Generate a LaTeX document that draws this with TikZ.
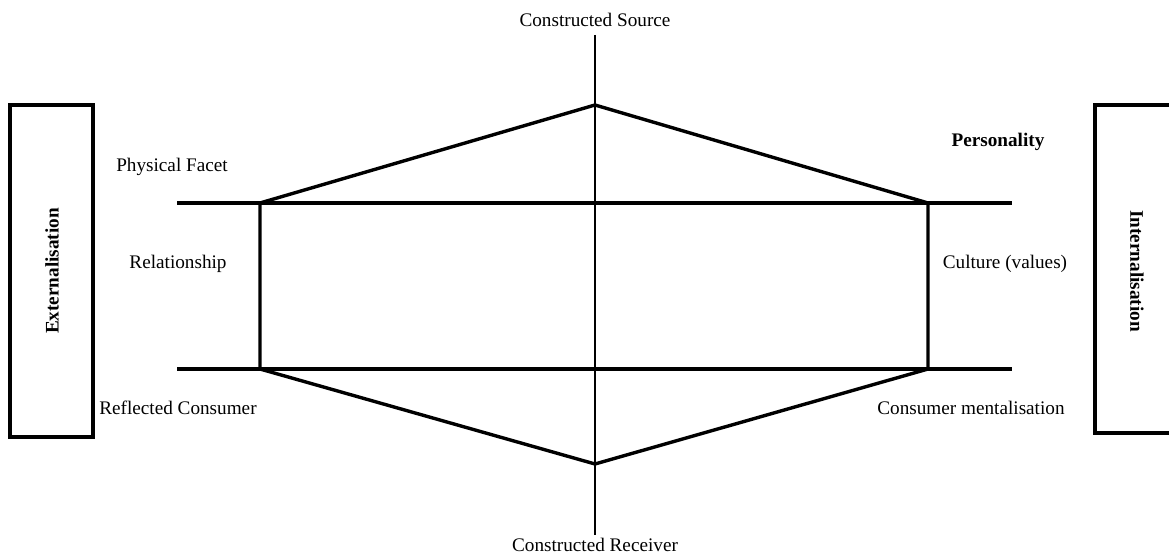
\documentclass[tikz,border=0pt]{standalone}
\usepackage{fontspec}
\setmainfont{Liberation Serif}
\usetikzlibrary{positioning}

\begin{document}
\begin{tikzpicture}[x=0.5pt, y=-0.5pt,
    lbl/.style={font=\fontsize{9.6}{11}\selectfont, inner sep=0pt},
    sidebox/.style={draw, line width=2pt},
    hexline/.style={line width=1.7pt, line join=round},
    axis/.style={line width=1.3pt}]
    \clip (0,0) rectangle (1169,555);

    % corners of the hexagon
    \coordinate (top) at (595,105);
    \coordinate (bot) at (595,464);
    \coordinate (ul) at (260,203);
    \coordinate (ur) at (928,203);
    \coordinate (ll) at (260,369);
    \coordinate (lr) at (928,369);

    % axis and the two long lines
    \draw[axis] (595,35) coordinate (axtop) -- (595,535) coordinate (axbot);
    \draw[hexline] (177,203) -- (1012,203);
    \draw[hexline] (177,369) -- (1012,369);

    \draw[hexline] (ll) -- (ul) -- (top) -- (ur) -- (lr) -- (bot) -- cycle;

    % side boxes
    \draw[sidebox] (10,105) rectangle (93,437);
    \draw[sidebox] (1095,105) rectangle (1190,433);
    \node[lbl, font=\fontsize{9.6}{11}\selectfont\bfseries, rotate=90] (ext) at (52,271) {Externalisation};
    \node[lbl, font=\fontsize{9.6}{11}\selectfont\bfseries, rotate=-90] (int) at (1137,271) {Internalisation};

    \node[lbl] (src) at (595,20) {Constructed Source};
    \node[lbl] (rcv) at (595,545) {Constructed Receiver};

    \node[lbl] (phys) at (172,167) {Physical Facet};
    \node[lbl] (rel) at (178,264) {Relationship};
    \node[lbl] (refl) at (178,408) {Reflected Consumer};
    \node[lbl, font=\fontsize{9.6}{11}\selectfont\bfseries] (pers) at (998,142) {Personality};
    \node[lbl] (cult) at (1005,264) {Culture (values)};
    \node[lbl] (ment) at (971,408) {Consumer mentalisation};
\end{tikzpicture}
\end{document}
